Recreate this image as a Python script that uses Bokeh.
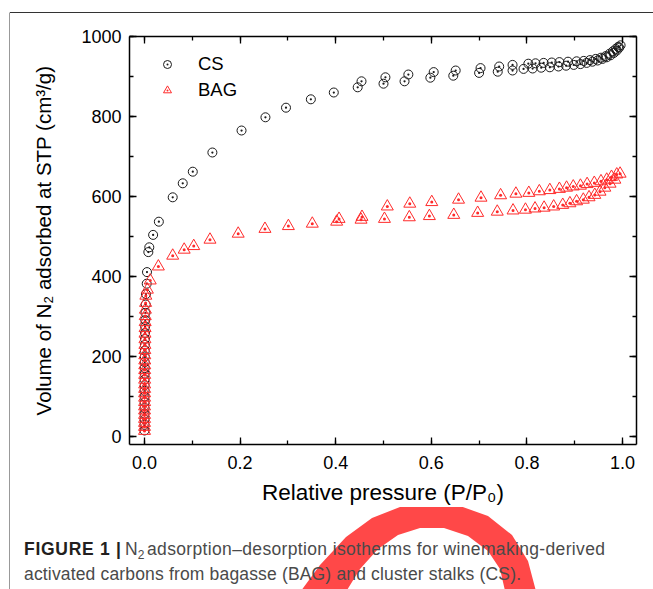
from bokeh.plotting import figure
from bokeh.layouts import row, column
from bokeh.models import (Range1d, SingleIntervalTicker, LinearAxis, Legend, LegendItem,
                          CustomJSTickFormatter, PrintfTickFormatter, Div)
from bokeh.embed import file_html
from bokeh.resources import INLINE

# ---------------- data ----------------
cs_ads_p = [0.0000, 0.0000, 0.0001, 0.0001, 0.0001, 0.0002, 0.0002, 0.0002, 0.0003, 0.0003,
            0.0004, 0.0004, 0.0005, 0.0006, 0.0007, 0.0008, 0.0009, 0.0011, 0.0013, 0.0016,
            0.0020, 0.0025, 0.0030, 0.0046, 0.0052, 0.008, 0.010, 0.018, 0.030, 0.059,
            0.080, 0.101, 0.142, 0.203, 0.253, 0.296, 0.348, 0.396, 0.446, 0.500,
            0.544, 0.598, 0.646, 0.700, 0.739, 0.770, 0.793, 0.812, 0.830, 0.848,
            0.866, 0.882, 0.898, 0.912, 0.925, 0.937, 0.948, 0.958, 0.967, 0.975,
            0.982, 0.988, 0.993]
cs_ads_v = [15, 29, 43, 57, 71, 86, 100, 114, 128, 143,
            157, 171, 186, 200, 215, 229, 244, 259, 275, 291,
            309, 330, 356, 382, 411, 461, 473, 504, 537, 598,
            633, 662, 710, 765, 798, 822, 843, 860, 873, 882,
            888, 897, 902, 909, 912, 915, 919, 920, 922, 923,
            925, 927, 929, 931, 934, 937, 940, 944, 948, 953,
            959, 965, 972]
cs_des_p = [0.996, 0.991, 0.986, 0.980, 0.973, 0.965, 0.955, 0.944, 0.932, 0.919,
            0.904, 0.886, 0.868, 0.852, 0.835, 0.818, 0.803, 0.770, 0.742, 0.703,
            0.651, 0.605, 0.552, 0.504, 0.454]
cs_des_v = [978, 974, 969, 963, 957, 951, 947, 944, 941, 939,
            938, 937, 936, 935, 934, 933, 932, 929, 925, 921,
            915, 911, 905, 898, 888]

bag_ads_p = [0.0000, 0.0000, 0.0000, 0.0001, 0.0001, 0.0001, 0.0001, 0.0002, 0.0002, 0.0002,
             0.0003, 0.0003, 0.0003, 0.0004, 0.0004, 0.0005, 0.0005, 0.0006, 0.0007, 0.0008,
             0.0009, 0.0010, 0.0012, 0.0014, 0.0016, 0.0019, 0.0023, 0.0028, 0.006, 0.012,
             0.029, 0.059, 0.083, 0.103, 0.137, 0.196, 0.252, 0.301, 0.351, 0.402,
             0.453, 0.502, 0.554, 0.596, 0.647, 0.697, 0.738, 0.771, 0.797, 0.817,
             0.836, 0.856, 0.875, 0.890, 0.904, 0.918, 0.930, 0.942, 0.953, 0.963,
             0.974, 0.984, 0.995]
bag_ads_v = [14, 24, 34, 44, 54, 65, 75, 86, 97, 108,
             119, 130, 142, 154, 166, 178, 190, 203, 216, 229,
             243, 257, 271, 286, 301, 317, 334, 352, 367, 390,
             425, 452, 467, 476, 492, 507, 519, 526, 532, 537,
             542, 544, 548, 551, 554, 559, 562, 565, 567, 570,
             572, 575, 579, 583, 588, 592, 598, 604, 612, 622,
             632, 642, 657]
bag_des_p = [0.988, 0.977, 0.967, 0.955, 0.941, 0.926, 0.912, 0.897, 0.883, 0.868,
             0.848, 0.826, 0.804, 0.777, 0.745, 0.704, 0.657, 0.601, 0.555, 0.508,
             0.455, 0.407]
bag_des_v = [655, 649, 642, 638, 634, 631, 627, 625, 622, 619,
             616, 613, 609, 607, 603, 597, 592, 586, 582, 575,
             549, 544]

x_label = "Relative pressure (P/P\u2080)"
y_label = "Volume of N\u2082 adsorbed at STP (cm\u00b3/g)"
series_names = ["CS", "BAG"]
caption_bold = "FIGURE 1 |"
caption_line1 = "adsorption\u2013desorption isotherms for winemaking-derived"
caption_line2 = "activated carbons from bagasse (BAG) and cluster stalks (CS)."

FONT = "Liberation Sans"
RULE = "#333333"

# ---------------- page rule on the left ----------------
p_strip = figure(width=10, height=589, x_range=Range1d(0, 10), y_range=Range1d(589, 0),
                 min_border=0, output_backend="svg", toolbar_location=None)
p_strip.axis.visible = False
p_strip.grid.visible = False
p_strip.outline_line_color = None
p_strip.segment(x0=[9.5, 9.5], y0=[12.0, 12.5], x1=[9.5, 10], y1=[589, 12.5],
                line_color=RULE, line_width=1)

# ---------------- page rule on top ----------------
top_div = Div(text=('<svg width="643" height="13" style="display:block">'
                    '<rect x="0" y="12" width="643" height="1" fill="%s"/></svg>' % RULE),
              width=643, height=13, margin=0)

# ---------------- main chart ----------------
p = figure(frame_width=507, frame_height=408,
           min_border_left=119, min_border_right=17, min_border_top=23, min_border_bottom=60,
           x_range=Range1d(-0.0314, 1.0293), y_range=Range1d(-20, 1000),
           output_backend="svg", toolbar_location=None)
p.background_fill_color = "white"
p.border_fill_color = "white"
p.outline_line_color = None
p.xgrid.visible = False
p.ygrid.visible = False


def style_axis(ax):
    ax.axis_line_color = "black"
    ax.axis_line_width = 1.5
    ax.major_tick_line_color = "black"
    ax.minor_tick_line_color = "black"
    ax.major_tick_line_width = 1.3
    ax.minor_tick_line_width = 1.3
    ax.major_tick_in = 7
    ax.major_tick_out = 0
    ax.minor_tick_in = 4
    ax.minor_tick_out = 0
    ax.major_label_text_font = FONT
    ax.major_label_text_font_size = "18px"
    ax.major_label_text_color = "black"
    ax.axis_label_text_font = FONT
    ax.axis_label_text_font_style = "normal"
    ax.axis_label_text_color = "black"


p.xaxis.ticker = SingleIntervalTicker(interval=0.2, num_minor_ticks=2)
p.yaxis.ticker = SingleIntervalTicker(interval=200, num_minor_ticks=2)
p.xaxis.formatter = PrintfTickFormatter(format="%.1f")
p.xaxis.axis_label = x_label
p.yaxis.axis_label = y_label
style_axis(p.xaxis[0])
style_axis(p.yaxis[0])
p.xaxis.axis_label_text_font_size = "22.5px"
p.yaxis.axis_label_text_font_size = "20.5px"
p.xaxis.major_label_standoff = 11
p.yaxis.major_label_standoff = 8
p.xaxis.axis_label_standoff = 8
p.yaxis.axis_label_standoff = 23

top_ax = LinearAxis(ticker=SingleIntervalTicker(interval=0.2, num_minor_ticks=2),
                    formatter=CustomJSTickFormatter(code="return ''"))
right_ax = LinearAxis(ticker=SingleIntervalTicker(interval=200, num_minor_ticks=2),
                      formatter=CustomJSTickFormatter(code="return ''"))
style_axis(top_ax)
style_axis(right_ax)
top_ax.major_label_text_font_size = "0px"
right_ax.major_label_text_font_size = "0px"
top_ax.major_label_standoff = 0
right_ax.major_label_standoff = 0
p.add_layout(top_ax, "above")
p.add_layout(right_ax, "right")

CS_COLOR = "#1a1a1a"
BAG_COLOR = "#ff2a2a"

r_cs1 = p.scatter(cs_ads_p, cs_ads_v, marker="circle_dot", size=9, fill_color=None,
                  line_color=CS_COLOR, line_width=1)
r_cs2 = p.scatter(cs_des_p, cs_des_v, marker="circle_dot", size=9, fill_color=None,
                  line_color=CS_COLOR, line_width=1)
r_bag1 = p.scatter(bag_ads_p, bag_ads_v, marker="triangle_dot", size=12, fill_color=None,
                   line_color=BAG_COLOR, line_width=1)
r_bag2 = p.scatter(bag_des_p, bag_des_v, marker="triangle_dot", size=12, fill_color=None,
                   line_color=BAG_COLOR, line_width=1)

legend = Legend(items=[LegendItem(label=series_names[0], renderers=[r_cs1]),
                       LegendItem(label=series_names[1], renderers=[r_bag1])],
                location=(28, 343), orientation="vertical")
legend.background_fill_alpha = 0
legend.border_line_color = None
legend.padding = 0
legend.margin = 0
legend.spacing = 4
legend.glyph_width = 20
legend.glyph_height = 20
legend.label_height = 20
legend.label_standoff = 21
legend.label_text_font = FONT
legend.label_text_font_size = "18.5px"
legend.label_text_color = "black"
p.add_layout(legend)

# ---------------- caption panel (svg, local coords = image - (10, 504)) ----------------
CAP_TOP = 504
OX, OY = 10, CAP_TOP
wm_outer = [(298, 592), (320, 562), (346, 534), (372, 515), (400, 504), (430, 500),
            (460, 503), (488, 513), (512, 532), (528, 558), (537, 592)]
wm_inner = [(506, 592), (500, 566), (488, 548), (468, 533), (444, 525), (420, 525),
            (398, 532), (378, 546), (360, 566), (344, 592)]
wm_pts = wm_outer + wm_inner
wm_path = "M " + " L ".join("%.1f %.1f" % (a - OX, b - OY) for a, b in wm_pts) + " Z"

cap_svg = (
    '<svg width="643" height="85" style="display:block" xmlns="http://www.w3.org/2000/svg">'
    '<path d="%s" fill="#ff4848"/>'
    '<text x="%d" y="%d" font-family="%s" font-size="17.5px" font-weight="bold" fill="#231f20"'
    ' textLength="97" lengthAdjust="spacing">%s</text>'
    '<text x="%d" y="%d" font-family="%s" font-size="17.5px" fill="#4a4a4a">N'
    '<tspan font-size="12px" dy="4">2</tspan></text>'
    '<text x="%d" y="%d" font-family="%s" font-size="17.5px" fill="#4a4a4a"'
    ' textLength="458" lengthAdjust="spacing">%s</text>'
    '<text x="%d" y="%d" font-family="%s" font-size="17.5px" fill="#4a4a4a"'
    ' textLength="497" lengthAdjust="spacing">%s</text>'
    '</svg>'
) % (wm_path,
     24 - OX, 552 - OY, FONT, caption_bold,
     125 - OX, 552 - OY, FONT,
     147 - OX, 552 - OY, FONT, caption_line1,
     24 - OX, 577 - OY, FONT, caption_line2)

cap_div = Div(text=cap_svg, width=643, height=589 - CAP_TOP, margin=0)

layout = row(p_strip, column(top_div, p, cap_div, spacing=0), spacing=0)

open("out.html", "w").write(file_html(layout, INLINE))
